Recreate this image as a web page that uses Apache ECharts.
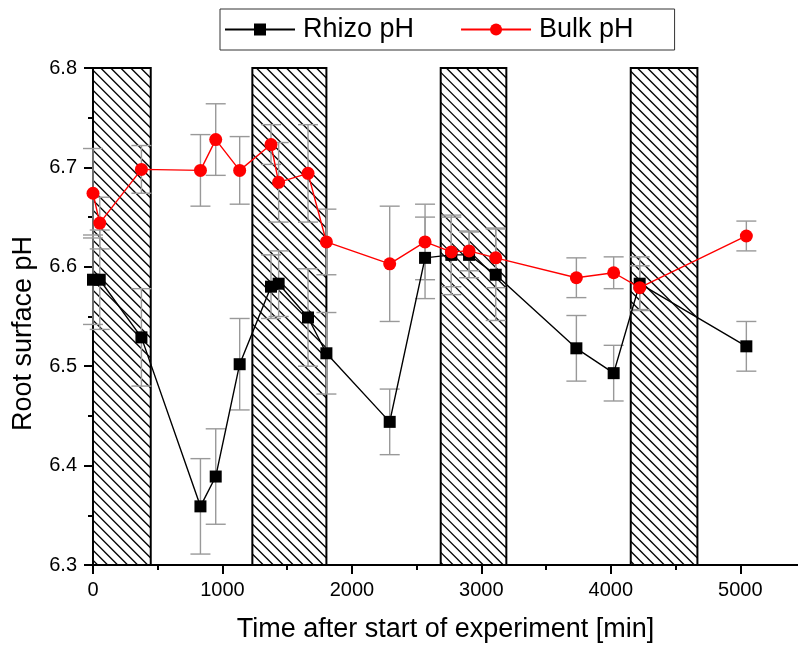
<!DOCTYPE html>
<html>
<head>
<meta charset="utf-8">
<script src="https://cdn.jsdelivr.net/npm/echarts@6/dist/echarts.min.js"></script>
<style>
html,body{margin:0;padding:0;background:#fff;}
#chart{width:798px;height:648px;}
</style>
</head>
<body>
<div id="chart"></div>
<script>
// ---- data ----
const time = [0, 52, 374, 830, 948, 1133, 1375, 1434, 1661, 1803, 2292, 2565, 2768, 2905, 3111, 3734, 4022, 4223, 5047];
const rhizo = [6.587, 6.587, 6.529, 6.359, 6.389, 6.502, 6.580, 6.583, 6.549, 6.513, 6.444, 6.609, 6.612, 6.612, 6.592, 6.518, 6.493, 6.583, 6.520];
const rhizoErr = [0.045, 0.050, 0.049, 0.048, 0.048, 0.046, 0.032, 0.033, 0.049, 0.041, 0.033, 0.041, 0.040, 0.023, 0.046, 0.033, 0.028, 0.027, 0.025];
const bulk = [6.674, 6.644, 6.698, 6.697, 6.728, 6.697, 6.723, 6.685, 6.694, 6.625, 6.603, 6.625, 6.615, 6.616, 6.609, 6.589, 6.594, 6.579, 6.631];
const bulkErr = [0.045, 0.026, 0.024, 0.036, 0.036, 0.034, 0.020, 0.040, 0.049, 0.033, 0.058, 0.038, 0.035, 0.020, 0.030, 0.020, 0.016, 0.022, 0.015];
const shadeStart = [0, 1231, 2686, 4154];
const shadeEnd = [446, 1803, 3193, 4669];
const xTicks = [0, 1000, 2000, 3000, 4000, 5000];
const xMinorTicks = [500, 1500, 2500, 3500, 4500];
const yMin = 6.3, yMax = 6.8, xMin = 0, xMax = 5446;

const FONT = 'Liberation Sans, Arial, sans-serif';
const chart = echarts.init(document.getElementById('chart'), null, {renderer: 'canvas'});

function errData(vals, errs) {
  return time.map((t, i) => [t, vals[i] - errs[i], vals[i] + errs[i]]);
}
function errRender(params, api) {
  const x = api.value(0);
  const lo = api.coord([x, api.value(1)]);
  const hi = api.coord([x, api.value(2)]);
  const hw = 10;
  const st = {stroke: '#999999', lineWidth: 1.4};
  return {type: 'group', children: [
    {type: 'line', shape: {x1: lo[0], y1: lo[1], x2: hi[0], y2: hi[1]}, style: st},
    {type: 'line', shape: {x1: lo[0]-hw, y1: lo[1], x2: lo[0]+hw, y2: lo[1]}, style: st},
    {type: 'line', shape: {x1: hi[0]-hw, y1: hi[1], x2: hi[0]+hw, y2: hi[1]}, style: st}
  ]};
}
function shadeRender(params, api) {
  const p0 = api.coord([api.value(0), yMax]);
  const p1 = api.coord([api.value(1), yMin]);
  const x0 = p0[0], y0 = p0[1], x1 = p1[0], y1 = p1[1];
  const children = [];
  const sp = 10;
  for (let c = y0 - x1; c <= y1 - x0; c += sp) {
    const xa = Math.max(x0, y0 - c), xb = Math.min(x1, y1 - c);
    if (xb > xa) {
      children.push({type: 'line', shape: {x1: xa, y1: xa + c, x2: xb, y2: xb + c},
        style: {stroke: '#000', lineWidth: 1.3}});
    }
  }
  children.push({type: 'rect', shape: {x: x0, y: y0, width: x1 - x0, height: y1 - y0},
    style: {fill: 'none', stroke: '#000', lineWidth: 2}});
  return {type: 'group', children: children};
}

const option = {
  backgroundColor: '#fff',
  animation: false,
  textStyle: {fontFamily: FONT},
  legend: {
    data: ['Rhizo pH', 'Bulk pH'],
    left: 220, top: 9,
    padding: [7, 41, 7, 4],
    itemWidth: 70, itemHeight: 15, itemGap: 46,
    borderColor: '#333', borderWidth: 1,
    textStyle: {fontSize: 27, fontFamily: FONT, color: '#000', padding: [0, 0, 0, 3]}
  },
  grid: {left: 93, top: 68, width: 705, height: 498, containLabel: false},
  xAxis: [{
    type: 'value', min: xMin, max: xMax, interval: 1000,
    name: 'Time after start of experiment [min]',
    nameLocation: 'middle', nameGap: 51,
    nameTextStyle: {fontSize: 27, color: '#000', fontFamily: FONT},
    axisLine: {show: true, lineStyle: {color: '#000', width: 2}},
    axisTick: {show: true, length: 9, lineStyle: {color: '#000', width: 2}, customValues: xTicks},
    axisLabel: {fontSize: 20, color: '#000', margin: 15, fontFamily: FONT, customValues: xTicks,
      formatter: v => String(Math.round(v))},
    splitLine: {show: false}
  }, {
    type: 'value', min: xMin, max: xMax, position: 'bottom', gridIndex: 0,
    axisLine: {show: false},
    axisTick: {show: true, length: 5, lineStyle: {color: '#000', width: 2}, customValues: xMinorTicks},
    axisLabel: {show: false},
    splitLine: {show: false}
  }],
  yAxis: {
    type: 'value', min: yMin, max: yMax, interval: 0.1,
    name: 'Root surface pH',
    nameLocation: 'middle', nameGap: 56, nameRotate: 90,
    nameTextStyle: {fontSize: 27, color: '#000', fontFamily: FONT, padding: [0, 34, 0, 0]},
    axisLine: {show: true, lineStyle: {color: '#000', width: 2}},
    axisTick: {show: true, length: 9, lineStyle: {color: '#000', width: 2}},
    minorTick: {show: true, splitNumber: 2, length: 5, lineStyle: {color: '#000', width: 2}},
    axisLabel: {fontSize: 20, color: '#000', margin: 16, fontFamily: FONT,
      formatter: v => v.toFixed(1)},
    splitLine: {show: false}
  },
  series: [
    {
      name: 'shade', type: 'custom', renderItem: shadeRender, silent: true,
      data: shadeStart.map((s, i) => [s, shadeEnd[i]]),
      encode: {x: [0, 1]}, z: 1
    },
    {
      name: 'rhizoErr', type: 'custom', renderItem: errRender, silent: true,
      data: errData(rhizo, rhizoErr), encode: {x: 0, y: [1, 2]}, z: 2
    },
    {
      name: 'bulkErr', type: 'custom', renderItem: errRender, silent: true,
      data: errData(bulk, bulkErr), encode: {x: 0, y: [1, 2]}, z: 2
    },
    {
      name: 'Rhizo pH', type: 'line', symbol: 'rect', symbolSize: 12,
      data: time.map((t, i) => [t, rhizo[i]]),
      lineStyle: {color: '#000', width: 1.4},
      itemStyle: {color: '#000'}, z: 3
    },
    {
      name: 'Bulk pH', type: 'line', symbol: 'circle', symbolSize: 13,
      data: time.map((t, i) => [t, bulk[i]]),
      lineStyle: {color: '#ff0000', width: 1.4},
      itemStyle: {color: '#ff0000'}, z: 4
    }
  ]
};
chart.setOption(option);
</script>
</body>
</html>
